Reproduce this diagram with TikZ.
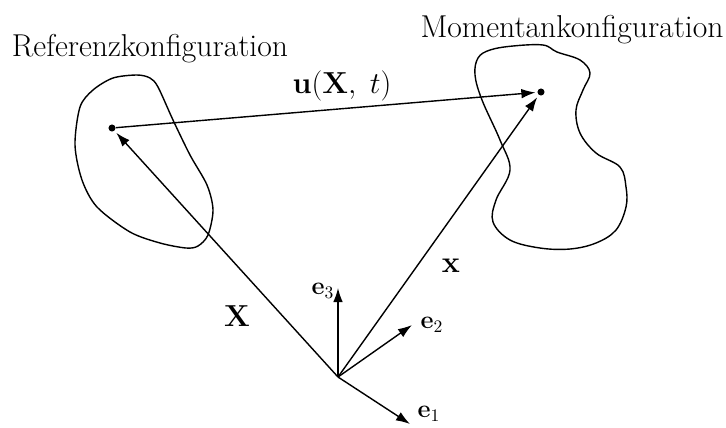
\documentclass[tikz,border=0pt]{standalone}
\usetikzlibrary{arrows.meta}
\tikzset{
  vec/.style={line width=0.8pt, -{Latex[length=8pt,width=5.5pt]}},
  blob/.style={line width=0.8pt},
  dot/.style={circle, fill, inner sep=0pt, minimum size=4pt},
  txt/.style={font=\fontsize{18}{21}\selectfont},
}
\begin{document}
\begin{tikzpicture}[x=0.02cm, y=-0.02cm]
  \useasboundingbox (0,0) rectangle (726,427);
  % Koerper
  \draw[blob] plot[smooth cycle, tension=0.5] coordinates {
    (80,107) (93,90) (113,78) (137,75) (150,78) (158,87) (173,120)
    (190,155) (207,185) (213,210) (208,235) (198,246) (186,248)
    (160,243) (130,232) (97,207) (82,180) (75,145)};
  \draw[blob] plot[smooth cycle, tension=0.6] coordinates {
    (478,58) (490,50) (513,46) (543,45) (557,52) (580,60) (590,73)
    (583,90) (576,110) (580,133) (596,153) (620,167) (626,187) (626,207)
    (616,230) (596,243) (570,249) (540,248) (510,240) (493,222) (496,200)
    (510,170) (500,140) (482,100) (475,75)};
  \node[txt, anchor=base] (ref) at (150,56) {Referenzkonfiguration};
  \node[txt, anchor=base] (mom) at (572,37) {Momentankonfiguration};
  % Punkte
  \node[dot] (P) at (112,128) {};
  \node[dot] (p) at (541,92) {};
  \coordinate (O) at (338,377);
  \draw[vec, shorten >=1.5pt] (O) -- (P);
  \draw[vec, shorten >=1.5pt] (O) -- (p);
  \draw[vec, shorten >=1pt] (P) -- (p);
  \node[font=\fontsize{19}{22}\selectfont] (X) at (237,316) {$\mathbf{X}$};
  \node[font=\fontsize{19}{22}\selectfont] (x) at (451,266) {$\mathbf{x}$};
  \node[txt, anchor=base] (u) at (342,93) {$\mathbf{u}(\mathbf{X},\;t)$};
  % Basis
  \coordinate (e1) at (410,424);
  \coordinate (e2) at (412,325);
  \coordinate (e3) at (338,288);
  \draw[vec] (O) -- (e1);
  \draw[vec] (O) -- (e2);
  \draw[vec] (O) -- (e3);
  \node[font=\Large] (l1) at (429,414) {$\mathbf{e}_1$};
  \node[font=\Large] (l2) at (432,325) {$\mathbf{e}_2$};
  \node[font=\Large] (l3) at (323,291) {$\mathbf{e}_3$};
\end{tikzpicture}
\end{document}
